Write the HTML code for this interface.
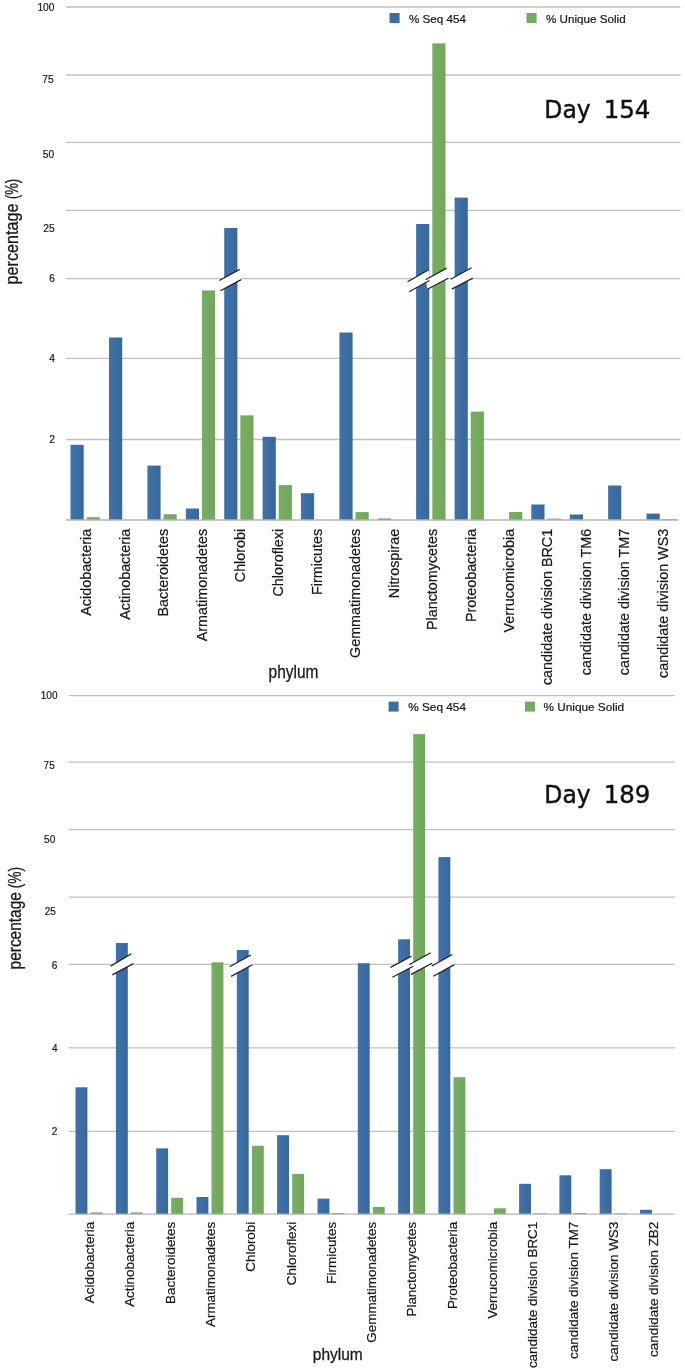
<!DOCTYPE html>
<html><head><meta charset="utf-8"><title>Phylum percentages</title>
<style>
html,body{margin:0;padding:0;background:#fff}
svg{display:block}
text{font-family:"Liberation Sans",Arial,Helvetica,sans-serif;fill:#1a1a1a;stroke:#1a1a1a;stroke-width:0.22px}

.tk{stroke-width:0.2px}
.hv{stroke:#1a1a1a;stroke-width:0.3px}
.day{font-family:"DejaVu Sans","Liberation Sans",sans-serif;fill:#111;stroke:#111;stroke-width:0.45px}
</style></head><body>
<svg width="685" height="1372" viewBox="0 0 685 1372">
<rect width="685" height="1372" fill="#fff"/>
<defs><linearGradient id="gb" x1="0" y1="0" x2="1" y2="0"><stop offset="0" stop-color="#3f73ab"/><stop offset="1" stop-color="#38689b"/></linearGradient><linearGradient id="gg" x1="0" y1="0" x2="1" y2="0"><stop offset="0" stop-color="#77ae61"/><stop offset="1" stop-color="#70a75a"/></linearGradient></defs>
<g id="c1">
<line x1="66.0" y1="7.0" x2="680.4" y2="7.0" stroke="#c0c0c0" stroke-width="1.3"/>
<line x1="66.0" y1="75.0" x2="680.4" y2="75.0" stroke="#c0c0c0" stroke-width="1.3"/>
<line x1="66.0" y1="142.4" x2="680.4" y2="142.4" stroke="#c0c0c0" stroke-width="1.3"/>
<line x1="66.0" y1="210.3" x2="680.4" y2="210.3" stroke="#c0c0c0" stroke-width="1.3"/>
<line x1="66.0" y1="278.7" x2="680.4" y2="278.7" stroke="#c0c0c0" stroke-width="1.3"/>
<line x1="66.0" y1="358.3" x2="680.4" y2="358.3" stroke="#c0c0c0" stroke-width="1.3"/>
<line x1="66.0" y1="439.5" x2="680.4" y2="439.5" stroke="#c0c0c0" stroke-width="1.3"/>
<rect x="70.5" y="444.8" width="13.2" height="75.2" fill="url(#gb)"/>
<rect x="86.7" y="517.2" width="13.2" height="2.8" fill="url(#gg)"/>
<rect x="109.0" y="337.5" width="13.2" height="182.5" fill="url(#gb)"/>
<rect x="147.4" y="465.6" width="13.2" height="54.4" fill="url(#gb)"/>
<rect x="163.5" y="514.2" width="13.2" height="5.8" fill="url(#gg)"/>
<rect x="185.8" y="508.5" width="13.2" height="11.5" fill="url(#gb)"/>
<rect x="201.9" y="290.4" width="13.2" height="229.6" fill="url(#gg)"/>
<rect x="224.2" y="228.0" width="13.2" height="292.0" fill="url(#gb)"/>
<rect x="240.3" y="415.4" width="13.2" height="104.6" fill="url(#gg)"/>
<rect x="262.6" y="436.8" width="13.2" height="83.2" fill="url(#gb)"/>
<rect x="278.7" y="485.1" width="13.2" height="34.9" fill="url(#gg)"/>
<rect x="300.9" y="493.2" width="13.2" height="26.8" fill="url(#gb)"/>
<rect x="339.4" y="332.5" width="13.2" height="187.5" fill="url(#gb)"/>
<rect x="355.5" y="512.1" width="13.2" height="7.9" fill="url(#gg)"/>
<rect x="377.8" y="518.6" width="13.2" height="1.4" fill="url(#gb)"/>
<rect x="416.1" y="224.0" width="13.2" height="296.0" fill="url(#gb)"/>
<rect x="432.3" y="43.4" width="13.2" height="476.6" fill="url(#gg)"/>
<rect x="454.6" y="197.6" width="13.2" height="322.4" fill="url(#gb)"/>
<rect x="470.7" y="411.6" width="13.2" height="108.4" fill="url(#gg)"/>
<rect x="509.1" y="512.0" width="13.2" height="8.0" fill="url(#gg)"/>
<rect x="531.3" y="504.5" width="13.2" height="15.5" fill="url(#gb)"/>
<rect x="547.5" y="518.6" width="13.2" height="1.4" fill="url(#gg)"/>
<rect x="569.8" y="514.5" width="13.2" height="5.5" fill="url(#gb)"/>
<rect x="608.1" y="485.5" width="13.2" height="34.5" fill="url(#gb)"/>
<rect x="646.5" y="513.6" width="13.2" height="6.4" fill="url(#gb)"/>
<rect x="662.7" y="519.0" width="13.2" height="1.0" fill="url(#gg)"/>
<line x1="66.0" y1="520.0" x2="678.4" y2="520.0" stroke="#b4b4b4" stroke-width="1.3"/>
<polygon points="219.3,280.5 239.7,269.4 241.2,279.6 220.4,290.7" fill="#fff"/>
<polygon points="407.6,281.7 428.6,269.8 429.5,280.5 409.2,291.7" fill="#fff"/>
<polygon points="425.6,279.8 446.6,268.1 448.2,278.2 427.4,289.2" fill="#fff"/>
<polygon points="450.6,279.3 471.6,267.7 472.8,278.2 451.7,289.2" fill="#fff"/>
<line x1="219.3" y1="280.5" x2="239.7" y2="269.4" stroke="#20242a" stroke-width="1.3"/>
<line x1="220.4" y1="290.7" x2="241.2" y2="279.6" stroke="#20242a" stroke-width="1.3"/>
<line x1="407.6" y1="281.7" x2="428.6" y2="269.8" stroke="#20242a" stroke-width="1.3"/>
<line x1="409.2" y1="291.7" x2="429.5" y2="280.5" stroke="#20242a" stroke-width="1.3"/>
<line x1="425.6" y1="279.8" x2="446.6" y2="268.1" stroke="#20242a" stroke-width="1.3"/>
<line x1="427.4" y1="289.2" x2="448.2" y2="278.2" stroke="#20242a" stroke-width="1.3"/>
<line x1="450.6" y1="279.3" x2="471.6" y2="267.7" stroke="#20242a" stroke-width="1.3"/>
<line x1="451.7" y1="289.2" x2="472.8" y2="278.2" stroke="#20242a" stroke-width="1.3"/>
<text transform="translate(54.4,10.5) scale(1.010,1)" font-size="10.1" text-anchor="end" class="tk">100</text>
<text transform="translate(53.7,83.2) scale(1.010,1)" font-size="10.1" text-anchor="end" class="tk">75</text>
<text transform="translate(54.2,157.7) scale(1.010,1)" font-size="10.1" text-anchor="end" class="tk">50</text>
<text transform="translate(54.6,231.7) scale(1.010,1)" font-size="10.1" text-anchor="end" class="tk">25</text>
<text transform="translate(54.9,281.7) scale(1.010,1)" font-size="10.1" text-anchor="end" class="tk">6</text>
<text transform="translate(55.0,362.2) scale(1.010,1)" font-size="10.1" text-anchor="end" class="tk">4</text>
<text transform="translate(54.9,443.4) scale(1.010,1)" font-size="10.1" text-anchor="end" class="tk">2</text>
<text transform="translate(91.3,528.8) rotate(-90) scale(1.018,1)" font-size="14.10" text-anchor="end">Acidobacteria</text>
<text transform="translate(129.7,528.8) rotate(-90) scale(1.018,1)" font-size="14.10" text-anchor="end">Actinobacteria</text>
<text transform="translate(168.1,528.8) rotate(-90) scale(1.018,1)" font-size="14.10" text-anchor="end">Bacteroidetes</text>
<text transform="translate(206.6,528.8) rotate(-90) scale(1.018,1)" font-size="14.10" text-anchor="end">Armatimonadetes</text>
<text transform="translate(245.0,528.8) rotate(-90) scale(1.018,1)" font-size="14.10" text-anchor="end">Chlorobi</text>
<text transform="translate(283.4,528.8) rotate(-90) scale(1.018,1)" font-size="14.10" text-anchor="end">Chloroflexi</text>
<text transform="translate(321.8,528.8) rotate(-90) scale(1.018,1)" font-size="14.10" text-anchor="end">Firmicutes</text>
<text transform="translate(360.2,528.8) rotate(-90) scale(1.018,1)" font-size="14.10" text-anchor="end">Gemmatimonadetes</text>
<text transform="translate(398.7,528.8) rotate(-90) scale(1.018,1)" font-size="14.10" text-anchor="end">Nitrospirae</text>
<text transform="translate(437.1,528.8) rotate(-90) scale(1.018,1)" font-size="14.10" text-anchor="end">Planctomycetes</text>
<text transform="translate(475.5,528.8) rotate(-90) scale(1.018,1)" font-size="14.10" text-anchor="end">Proteobacteria</text>
<text transform="translate(513.9,528.8) rotate(-90) scale(1.018,1)" font-size="14.10" text-anchor="end">Verrucomicrobia</text>
<text transform="translate(552.3,528.8) rotate(-90) scale(1.018,1)" font-size="14.10" text-anchor="end">candidate division BRC1</text>
<text transform="translate(590.8,528.8) rotate(-90) scale(1.018,1)" font-size="14.10" text-anchor="end">candidate division TM6</text>
<text transform="translate(629.2,528.8) rotate(-90) scale(1.018,1)" font-size="14.10" text-anchor="end">candidate division TM7</text>
<text transform="translate(667.6,528.8) rotate(-90) scale(1.018,1)" font-size="14.10" text-anchor="end">candidate division WS3</text>
<rect x="389.5" y="13.0" width="10.1" height="10.1" fill="#3b6ea3"/>
<text transform="translate(408.9,22.5) scale(1.015,1)" font-size="11.5">% Seq 454</text>
<rect x="526.5" y="13.0" width="10.1" height="10.1" fill="#74ab5d"/>
<text transform="translate(545.9,22.5) scale(1.015,1)" font-size="11.5">% Unique Solid</text>
<text class="day" x="544.3" y="117.9" font-size="24.7"><tspan textLength="46.4" lengthAdjust="spacingAndGlyphs">Day</tspan> <tspan x="603.7" textLength="46.7" lengthAdjust="spacingAndGlyphs">154</tspan></text>
<text transform="translate(18.4,284.4) rotate(-90)" font-size="18.0" class="hv"><tspan textLength="80.8" lengthAdjust="spacingAndGlyphs">percentage</tspan> <tspan x="85.3" textLength="20.3" lengthAdjust="spacingAndGlyphs">(%)</tspan></text>
<text x="268.6" y="677.9" font-size="17.8" textLength="49.8" lengthAdjust="spacingAndGlyphs" class="hv">phylum</text>
</g>
<g id="c2">
<line x1="68.7" y1="695.6" x2="674.8" y2="695.6" stroke="#c0c0c0" stroke-width="1.3"/>
<line x1="68.7" y1="762.2" x2="674.8" y2="762.2" stroke="#c0c0c0" stroke-width="1.3"/>
<line x1="68.7" y1="829.7" x2="674.8" y2="829.7" stroke="#c0c0c0" stroke-width="1.3"/>
<line x1="68.7" y1="897.2" x2="674.8" y2="897.2" stroke="#c0c0c0" stroke-width="1.3"/>
<line x1="68.7" y1="964.3" x2="674.8" y2="964.3" stroke="#c0c0c0" stroke-width="1.3"/>
<line x1="68.7" y1="1047.9" x2="674.8" y2="1047.9" stroke="#c0c0c0" stroke-width="1.3"/>
<line x1="68.7" y1="1131.3" x2="674.8" y2="1131.3" stroke="#c0c0c0" stroke-width="1.3"/>
<rect x="75.5" y="1087.3" width="11.9" height="126.9" fill="url(#gb)"/>
<rect x="90.6" y="1212.4" width="11.9" height="1.8" fill="url(#gg)"/>
<rect x="115.9" y="943.0" width="11.9" height="271.2" fill="url(#gb)"/>
<rect x="130.9" y="1212.4" width="11.9" height="1.8" fill="url(#gg)"/>
<rect x="156.2" y="1148.4" width="11.9" height="65.8" fill="url(#gb)"/>
<rect x="171.2" y="1197.8" width="11.9" height="16.4" fill="url(#gg)"/>
<rect x="196.5" y="1197.0" width="11.9" height="17.2" fill="url(#gb)"/>
<rect x="211.5" y="962.3" width="11.9" height="251.9" fill="url(#gg)"/>
<rect x="236.8" y="950.0" width="11.9" height="264.2" fill="url(#gb)"/>
<rect x="251.9" y="1145.8" width="11.9" height="68.4" fill="url(#gg)"/>
<rect x="277.1" y="1135.2" width="11.9" height="79.0" fill="url(#gb)"/>
<rect x="292.2" y="1173.9" width="11.9" height="40.3" fill="url(#gg)"/>
<rect x="317.5" y="1198.6" width="11.9" height="15.6" fill="url(#gb)"/>
<rect x="332.5" y="1213.0" width="11.9" height="1.2" fill="url(#gg)"/>
<rect x="357.8" y="963.2" width="11.9" height="251.0" fill="url(#gb)"/>
<rect x="372.8" y="1206.9" width="11.9" height="7.3" fill="url(#gg)"/>
<rect x="398.1" y="939.3" width="11.9" height="274.9" fill="url(#gb)"/>
<rect x="413.2" y="734.1" width="11.9" height="480.1" fill="url(#gg)"/>
<rect x="438.4" y="857.1" width="11.9" height="357.1" fill="url(#gb)"/>
<rect x="453.5" y="1077.2" width="11.9" height="137.0" fill="url(#gg)"/>
<rect x="493.8" y="1208.3" width="11.9" height="5.9" fill="url(#gg)"/>
<rect x="519.1" y="1183.8" width="11.9" height="30.4" fill="url(#gb)"/>
<rect x="534.1" y="1213.4" width="11.9" height="0.8" fill="url(#gg)"/>
<rect x="559.4" y="1175.3" width="11.9" height="38.9" fill="url(#gb)"/>
<rect x="574.4" y="1213.0" width="11.9" height="1.2" fill="url(#gg)"/>
<rect x="599.7" y="1169.2" width="11.9" height="45.0" fill="url(#gb)"/>
<rect x="614.8" y="1213.4" width="11.9" height="0.8" fill="url(#gg)"/>
<rect x="640.0" y="1209.8" width="11.9" height="4.4" fill="url(#gb)"/>
<line x1="68.7" y1="1214.2" x2="674.8" y2="1214.2" stroke="#b4b4b4" stroke-width="1.3"/>
<polygon points="110.6,966.1 131.4,953.8 133.4,963.6 112.3,974.9" fill="#fff"/>
<polygon points="229.6,966.7 251.0,955.0 252.4,964.7 231.1,976.4" fill="#fff"/>
<polygon points="390.5,967.4 411.5,956.2 413.2,966.2 392.4,977.2" fill="#fff"/>
<polygon points="409.2,964.8 430.7,952.7 431.9,963.2 411.1,974.4" fill="#fff"/>
<polygon points="431.9,966.0 452.4,954.5 454.3,964.6 433.3,976.3" fill="#fff"/>
<line x1="110.6" y1="966.1" x2="131.4" y2="953.8" stroke="#20242a" stroke-width="1.3"/>
<line x1="112.3" y1="974.9" x2="133.4" y2="963.6" stroke="#20242a" stroke-width="1.3"/>
<line x1="229.6" y1="966.7" x2="251.0" y2="955.0" stroke="#20242a" stroke-width="1.3"/>
<line x1="231.1" y1="976.4" x2="252.4" y2="964.7" stroke="#20242a" stroke-width="1.3"/>
<line x1="390.5" y1="967.4" x2="411.5" y2="956.2" stroke="#20242a" stroke-width="1.3"/>
<line x1="392.4" y1="977.2" x2="413.2" y2="966.2" stroke="#20242a" stroke-width="1.3"/>
<line x1="409.2" y1="964.8" x2="430.7" y2="952.7" stroke="#20242a" stroke-width="1.3"/>
<line x1="411.1" y1="974.4" x2="431.9" y2="963.2" stroke="#20242a" stroke-width="1.3"/>
<line x1="431.9" y1="966.0" x2="452.4" y2="954.5" stroke="#20242a" stroke-width="1.3"/>
<line x1="433.3" y1="976.3" x2="454.3" y2="964.6" stroke="#20242a" stroke-width="1.3"/>
<text transform="translate(57.5,698.9) scale(1.000,1)" font-size="10.0" text-anchor="end" class="tk">100</text>
<text transform="translate(54.7,769.0) scale(1.000,1)" font-size="10.0" text-anchor="end" class="tk">75</text>
<text transform="translate(55.2,842.5) scale(1.000,1)" font-size="10.0" text-anchor="end" class="tk">50</text>
<text transform="translate(55.9,915.2) scale(1.000,1)" font-size="10.0" text-anchor="end" class="tk">25</text>
<text transform="translate(57.3,968.7) scale(1.000,1)" font-size="10.0" text-anchor="end" class="tk">6</text>
<text transform="translate(57.5,1051.6) scale(1.000,1)" font-size="10.0" text-anchor="end" class="tk">4</text>
<text transform="translate(57.3,1135.3) scale(1.000,1)" font-size="10.0" text-anchor="end" class="tk">2</text>
<text transform="translate(94.0,1221.7) rotate(-90) scale(0.982,1)" font-size="13.70" text-anchor="end">Acidobacteria</text>
<text transform="translate(134.3,1221.7) rotate(-90) scale(0.982,1)" font-size="13.70" text-anchor="end">Actinobacteria</text>
<text transform="translate(174.6,1221.7) rotate(-90) scale(0.982,1)" font-size="13.70" text-anchor="end">Bacteroidetes</text>
<text transform="translate(214.9,1221.7) rotate(-90) scale(0.982,1)" font-size="13.70" text-anchor="end">Armatimonadetes</text>
<text transform="translate(255.2,1221.7) rotate(-90) scale(0.982,1)" font-size="13.70" text-anchor="end">Chlorobi</text>
<text transform="translate(295.5,1221.7) rotate(-90) scale(0.982,1)" font-size="13.70" text-anchor="end">Chloroflexi</text>
<text transform="translate(335.8,1221.7) rotate(-90) scale(0.982,1)" font-size="13.70" text-anchor="end">Firmicutes</text>
<text transform="translate(376.1,1221.7) rotate(-90) scale(0.982,1)" font-size="13.70" text-anchor="end">Gemmatimonadetes</text>
<text transform="translate(416.4,1221.7) rotate(-90) scale(0.982,1)" font-size="13.70" text-anchor="end">Planctomycetes</text>
<text transform="translate(456.7,1221.7) rotate(-90) scale(0.982,1)" font-size="13.70" text-anchor="end">Proteobacteria</text>
<text transform="translate(497.0,1221.7) rotate(-90) scale(0.982,1)" font-size="13.70" text-anchor="end">Verrucomicrobia</text>
<text transform="translate(537.3,1221.7) rotate(-90) scale(0.982,1)" font-size="13.70" text-anchor="end">candidate division BRC1</text>
<text transform="translate(577.6,1221.7) rotate(-90) scale(0.982,1)" font-size="13.70" text-anchor="end">candidate division TM7</text>
<text transform="translate(617.9,1221.7) rotate(-90) scale(0.982,1)" font-size="13.70" text-anchor="end">candidate division WS3</text>
<text transform="translate(658.2,1221.7) rotate(-90) scale(0.982,1)" font-size="13.70" text-anchor="end">candidate division ZB2</text>
<rect x="388.6" y="701.6" width="10.0" height="10.0" fill="#3b6ea3"/>
<text transform="translate(408.2,711.0) scale(1.055,1)" font-size="11.2">% Seq 454</text>
<rect x="525.0" y="701.6" width="10.0" height="10.0" fill="#74ab5d"/>
<text transform="translate(543.4,711.0) scale(1.055,1)" font-size="11.2">% Unique Solid</text>
<text class="day" x="544.3" y="802.9" font-size="24.7"><tspan textLength="46.4" lengthAdjust="spacingAndGlyphs">Day</tspan> <tspan x="603.7" textLength="46.7" lengthAdjust="spacingAndGlyphs">189</tspan></text>
<text transform="translate(20.9,969.4) rotate(-90)" font-size="18.6" class="hv"><tspan textLength="77.2" lengthAdjust="spacingAndGlyphs">percentage</tspan> <tspan x="81.2" textLength="21.3" lengthAdjust="spacingAndGlyphs">(%)</tspan></text>
<text x="312.8" y="1359.9" font-size="17.0" textLength="50.0" lengthAdjust="spacingAndGlyphs" class="hv">phylum</text>
</g>
</svg>
</body></html>
